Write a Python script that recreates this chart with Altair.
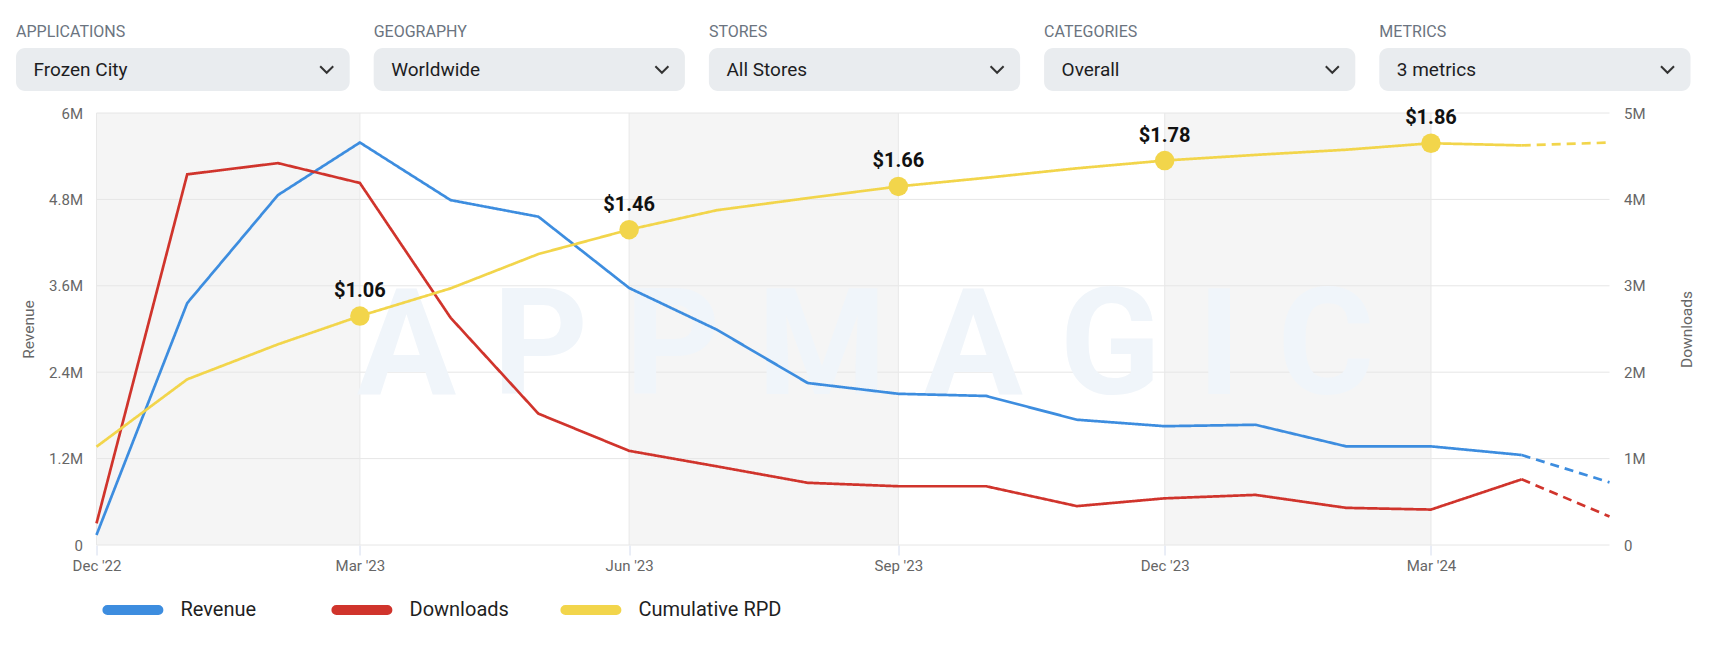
import altair as alt
import pandas as pd

# ---------------- data ----------------
months = ["2022-12-01", "2023-01-01", "2023-02-01", "2023-03-01", "2023-04-01",
          "2023-05-01", "2023-06-01", "2023-07-01", "2023-08-01", "2023-09-01",
          "2023-10-01", "2023-11-01", "2023-12-01", "2024-01-01", "2024-02-01",
          "2024-03-01", "2024-04-01", "2024-05-01"]
revenue_m = [0.14, 3.36, 4.86, 5.59, 4.79, 4.56, 3.57, 2.99, 2.25, 2.10,
             2.07, 1.74, 1.65, 1.67, 1.37, 1.37, 1.25, 0.87]
downloads_m = [0.25, 4.29, 4.42, 4.19, 2.63, 1.52, 1.09, 0.91, 0.72, 0.68,
               0.68, 0.45, 0.54, 0.58, 0.43, 0.41, 0.76, 0.33]
cumulative_rpd = [0.455, 0.767, 0.929, 1.06, 1.188, 1.347, 1.46, 1.55, 1.606, 1.66,
                  1.70, 1.744, 1.78, 1.806, 1.83, 1.86, 1.85, 1.863]

series_names = ["Revenue", "Downloads", "Cumulative RPD"]
series_colors = ["#3d8ddf", "#d0342c", "#f2d54b"]

label_months = ["2023-03-01", "2023-06-01", "2023-09-01", "2023-12-01", "2024-03-01"]
label_rpd = [1.06, 1.46, 1.66, 1.78, 1.86]
label_text = ["$1.06", "$1.46", "$1.66", "$1.78", "$1.86"]

band_starts = ["2022-12-01", "2023-06-01", "2023-12-01"]
band_ends = ["2023-03-01", "2023-09-01", "2024-03-01"]
quarter_ticks = ["2022-12-01", "2023-03-01", "2023-06-01", "2023-09-01", "2023-12-01", "2024-03-01"]
x_start, x_end = "2022-12-01", "2024-05-01"

revenue_ticks = [0, 1.2e6, 2.4e6, 3.6e6, 4.8e6, 6e6]
download_ticks = [0, 1e6, 2e6, 3e6, 4e6, 5e6]
rpd_domain = [0, 2]

filter_titles = ["APPLICATIONS", "GEOGRAPHY", "STORES", "CATEGORIES", "METRICS"]
filter_values = ["Frozen City", "Worldwide", "All Stores", "Overall", "3 metrics"]
watermark_text = "A P P M A G I C"


# ---------------- helpers ----------------
def dt(s):
    y, m, d = map(int, s.split("-"))
    return alt.DateTime(year=y, month=m, date=d)


def line_frame(name, values, unit):
    n = len(months)
    rows = []
    for i, (m, v) in enumerate(zip(months, values)):
        if i <= n - 2:
            rows.append({"date": m, "value": v * unit, "seg": "solid", "series": name})
        if i >= n - 2:
            rows.append({"date": m, "value": v * unit, "seg": "dash", "series": name})
    df = pd.DataFrame(rows)
    df["date"] = pd.to_datetime(df["date"])
    return df


GRAY = "#666666"
x_scale = alt.Scale(domain=[dt(x_start), dt(x_end)])
x_axis = alt.Axis(values=[dt(s) for s in quarter_ticks], format="%b '%y", title=None,
                  labelFontSize=15, labelColor=GRAY, labelPadding=3, labelFlush=False,
                  tickSize=10, tickColor="#d4dcee", domain=False, grid=False)


def xenc(field="date"):
    return alt.X(f"{field}:T", scale=x_scale, axis=x_axis, title=None)


rev_scale = alt.Scale(domain=[0, 6e6], nice=False)
dl_scale = alt.Scale(domain=[0, 5e6], nice=False)
rpd_scale = alt.Scale(domain=rpd_domain, nice=False)

color_scale = alt.Scale(domain=series_names, range=series_colors)
dash_scale = alt.Scale(domain=["solid", "dash"], range=[[1, 0], [9, 6]])

capsule = "M-1.02,-0.08 L1.02,-0.08 A0.08,0.08 0 0 1 1.02,0.08 L-1.02,0.08 A0.08,0.08 0 0 1 -1.02,-0.08 Z"
legend = alt.Legend(title=None, orient="none", legendX=8.4, legendY=469, direction="horizontal",
                    symbolType=capsule, symbolSize=2500, symbolStrokeWidth=6,
                    labelFontSize=20, labelColor="#1f1f1f", labelOffset=19.6,
                    columnPadding=-2, gridAlign="all")
color_enc = alt.Color("series:N", scale=color_scale, legend=legend)
dash_enc = alt.StrokeDash("seg:N", scale=dash_scale, legend=None)

# ---------------- background ----------------
bands_df = pd.DataFrame({"start": pd.to_datetime(band_starts), "end": pd.to_datetime(band_ends)})
bands = alt.Chart(bands_df).mark_rect(color="#f5f5f5").encode(x=xenc("start"), x2="end:T")

hgrid = alt.Chart(pd.DataFrame({"v": revenue_ticks})).mark_rule(color="#e6e6e6", strokeWidth=1).encode(
    y=alt.Y("v:Q", scale=rev_scale, axis=None))
vgrid = alt.Chart(pd.DataFrame({"d": pd.to_datetime(quarter_ticks)})).mark_rule(
    color="#e8e8e8", strokeWidth=1).encode(x=xenc("d"))

wm = alt.Chart(pd.DataFrame({"t": [watermark_text]})).mark_text(
    fontSize=148, fontWeight="bold", color="#f0f5fa", align="center", baseline="middle").encode(
    text="t:N", x=alt.value(769), y=alt.value(237))

# ---------------- series ----------------
rev_df = line_frame("Revenue", revenue_m, 1e6)
dl_df = line_frame("Downloads", downloads_m, 1e6)
rpd_df = line_frame("Cumulative RPD", cumulative_rpd, 1.0)

rev_axis = alt.Axis(values=revenue_ticks, orient="left", title="Revenue",
                    labelExpr="datum.value == 0 ? '0' : format(datum.value / 1000000, '.1~f') + 'M'",
                    labelFontSize=15, labelColor=GRAY, labelPadding=14, tickSize=0, ticks=False,
                    domain=False, grid=False, titleFontSize=15.5, titleFontWeight="normal",
                    titleColor=GRAY, titlePadding=12)
dl_axis = alt.Axis(values=download_ticks, orient="right", title="Downloads",
                   labelExpr="datum.value == 0 ? '0' : format(datum.value / 1000000, '~g') + 'M'",
                   labelFontSize=15, labelColor=GRAY, labelPadding=14, tickSize=0, ticks=False,
                   domain=False, grid=False, titleFontSize=15.5, titleFontWeight="normal",
                   titleColor=GRAY, titlePadding=34, titleAngle=270, titleBaseline="top")

rev_line = alt.Chart(rev_df).mark_line(strokeWidth=2.7).encode(
    x=xenc(), y=alt.Y("value:Q", scale=rev_scale, axis=rev_axis),
    color=color_enc, strokeDash=dash_enc)
dl_line = alt.Chart(dl_df).mark_line(strokeWidth=2.7).encode(
    x=xenc(), y=alt.Y("value:Q", scale=dl_scale, axis=dl_axis),
    color=color_enc, strokeDash=dash_enc)
rpd_line = alt.Chart(rpd_df).mark_line(strokeWidth=2.7).encode(
    x=xenc(), y=alt.Y("value:Q", scale=rpd_scale, axis=None),
    color=color_enc, strokeDash=dash_enc)

lab_df = pd.DataFrame({"date": pd.to_datetime(label_months), "value": label_rpd, "text": label_text})
rpd_pts = alt.Chart(lab_df).mark_circle(size=380, color=series_colors[2], opacity=1).encode(
    x=xenc(), y=alt.Y("value:Q", scale=rpd_scale, axis=None))
rpd_lbl = alt.Chart(lab_df).mark_text(dy=-25, fontSize=20, fontWeight="bold", color="#111111",
                                      baseline="middle").encode(
    x=xenc(), y=alt.Y("value:Q", scale=rpd_scale, axis=None), text="text:N")

rpd_group = alt.layer(rpd_line, rpd_pts, rpd_lbl)

main = alt.layer(bands, hgrid, vgrid, wm, rev_line, dl_line, rpd_group).resolve_scale(y="independent")

# ---------------- header (filter dropdowns) ----------------
hdr_df = pd.DataFrame({"title": filter_titles, "value": filter_values})
h_scale = alt.Scale(domain=filter_titles, range=[-58, 1594], paddingInner=0.0716, paddingOuter=0)
is_first = alt.datum.title == filter_titles[0]
not_first = alt.datum.title != filter_titles[0]
BOX = "#e9ecef"


def hx(pos):
    return alt.X("title:N", scale=h_scale, axis=None, bandPosition=pos)


box = alt.Chart(hdr_df).mark_rect(cornerRadius=9, color=BOX).encode(
    x=alt.X("title:N", scale=h_scale, axis=None), y=alt.value(-65), y2=alt.value(-22))
box_first = alt.Chart(hdr_df).transform_filter(is_first).mark_rect(
    cornerRadius=9, color=BOX, xOffset=-22.5).encode(
    x=alt.X("title:N", scale=h_scale, axis=None), y=alt.value(-65), y2=alt.value(-22))

title_style = dict(align="left", baseline="middle", fontSize=16, color="#6b7480")
value_style = dict(align="left", baseline="middle", fontSize=19, color="#1d1d1f")
h_title = alt.Chart(hdr_df).transform_filter(not_first).mark_text(**title_style).encode(
    x=hx(0), y=alt.value(-81), text="title:N")
h_title1 = alt.Chart(hdr_df).transform_filter(is_first).mark_text(dx=-22.5, **title_style).encode(
    x=hx(0), y=alt.value(-81), text="title:N")
h_value = alt.Chart(hdr_df).transform_filter(not_first).mark_text(dx=17.5, **value_style).encode(
    x=hx(0), y=alt.value(-43.5), text="value:N")
h_value1 = alt.Chart(hdr_df).transform_filter(is_first).mark_text(dx=-5, **value_style).encode(
    x=hx(0), y=alt.value(-43.5), text="value:N")
h_chev = alt.Chart(hdr_df).mark_point(shape="M-1,-0.5 L0,0.5 L1,-0.5", filled=False, size=170,
                                      strokeWidth=2, color="#333333", opacity=1, xOffset=-23).encode(
    x=hx(1), y=alt.value(-43.5))
header = alt.layer(box, box_first, h_title, h_title1, h_value, h_value1, h_chev)

chart = alt.layer(main, header).resolve_scale(x="independent").properties(
    width=1513, height=432,
    padding={"left": 7.5, "top": 16, "right": 5, "bottom": 5},
    background="white",
).configure(font="Roboto").configure_view(stroke=None)

chart.save("out.html", embed_options={"renderer": "svg", "actions": False})
